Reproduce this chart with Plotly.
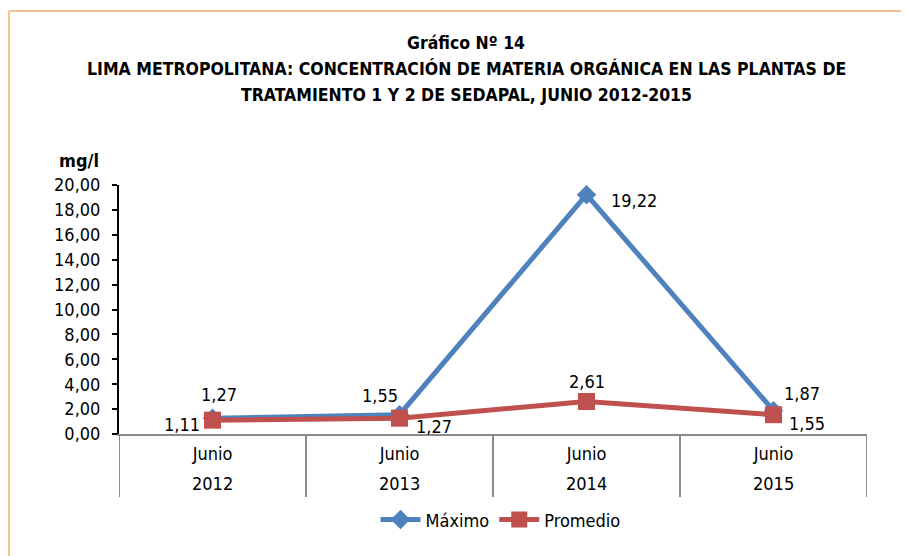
import plotly.graph_objects as go

# datos del gráfico
meses = ["Junio", "Junio", "Junio", "Junio"]
anios = ["2012", "2013", "2014", "2015"]
maximo = [1.27, 1.55, 19.22, 1.87]
promedio = [1.11, 1.27, 2.61, 1.55]
y_ticks = [0, 2, 4, 6, 8, 10, 12, 14, 16, 18, 20]

FONT = "Liberation Sans Narrow, Arial Narrow, DejaVu Sans Condensed, Liberation Sans, sans-serif"
AZUL = "#4F81BD"
ROJO = "#C0504D"
GRIS = "#8C8C8C"
NARANJA = "#F9C08F"

x = list(range(len(anios)))

fig = go.Figure()
fig.add_trace(go.Scatter(
    x=x, y=maximo, name="Máximo", mode="lines+markers",
    line=dict(color=AZUL, width=5),
    marker=dict(symbol="diamond", size=15, color=AZUL),
))
fig.add_trace(go.Scatter(
    x=x, y=promedio, name="Promedio", mode="lines+markers",
    line=dict(color=ROJO, width=5),
    marker=dict(symbol="square", size=17, color=ROJO),
))

def fmt(v):
    return f"{v:.2f}".replace(".", ",")

# desplazamientos (px) de las etiquetas de datos
off_max = [(6, 24), (-20, 19), (47, -6), (28, 17)]
off_prom = [(-31, -4), (34, -8), (0, 20), (33, -9)]

annotations = []
for i, v in enumerate(maximo):
    annotations.append(dict(x=x[i], y=v, text=fmt(v), showarrow=False,
                            xshift=off_max[i][0], yshift=off_max[i][1]))
for i, v in enumerate(promedio):
    annotations.append(dict(x=x[i], y=v, text=fmt(v), showarrow=False,
                            xshift=off_prom[i][0], yshift=off_prom[i][1]))

# segunda fila del eje de categorías (años)
for i, a in enumerate(anios):
    annotations.append(dict(x=x[i], y=-0.2, xref="x", yref="paper", text=a,
                            showarrow=False, yanchor="middle"))

# títulos
titulos = [
    ("Gráfico Nº 14", 1.570),
    ("LIMA METROPOLITANA: CONCENTRACIÓN DE MATERIA ORGÁNICA EN LAS PLANTAS DE", 1.466),
    ("TRATAMIENTO 1 Y 2 DE SEDAPAL, JUNIO 2012-2015", 1.361),
]
for t, yy in titulos:
    annotations.append(dict(x=0.464, y=yy, xref="paper", yref="paper",
                            text=f"<b>{t}</b>", showarrow=False,
                            font=dict(size=17.5), yanchor="middle"))
annotations.append(dict(x=-0.083, y=1.10, xref="paper", yref="paper",
                        text="<b>mg/l</b>", showarrow=False,
                        xanchor="left", yanchor="middle"))

shapes = []
# separadores de categorías
for b in [-0.5, 0.5, 1.5, 2.5, 3.5]:
    shapes.append(dict(type="line", xref="x", yref="paper", x0=b, x1=b,
                       y0=0, y1=-0.253, line=dict(color=GRIS, width=2)))
# marco naranja (solo borde superior e izquierdo visibles)
shapes.append(dict(type="line", xref="paper", yref="paper",
                   x0=-0.147, x1=1.5, y0=1.699, y1=1.699,
                   line=dict(color=NARANJA, width=2), layer="below"))
shapes.append(dict(type="line", xref="paper", yref="paper",
                   x0=-0.147, x1=-0.147, y0=1.699, y1=-1.0,
                   line=dict(color=NARANJA, width=2), layer="below"))

fig.update_layout(
    width=909, height=556,
    margin=dict(l=111, r=50, t=177, b=130),
    paper_bgcolor="white", plot_bgcolor="white",
    font=dict(family=FONT, size=18, color="black"),
    separators=",.",
    showlegend=True,
    legend=dict(orientation="h", x=0.51, xanchor="center", y=-0.345,
                yanchor="middle", font=dict(size=18), itemwidth=40),
    annotations=annotations,
    shapes=shapes,
)
fig.update_xaxes(
    range=[-0.5, 3.5], tickvals=x, ticktext=meses,
    showline=True, linecolor=GRIS, linewidth=2, ticks="",
    showgrid=False, zeroline=False, ticklabelstandoff=2,
)
fig.update_yaxes(
    range=[0, 20], tickvals=y_ticks, tickformat=".2f",
    showline=True, linecolor="black", linewidth=2,
    ticks="outside", ticklen=5, tickcolor="black", tickwidth=2,
    showgrid=False, zeroline=False, ticklabelstandoff=8,
)

fig.write_html("out.html")
